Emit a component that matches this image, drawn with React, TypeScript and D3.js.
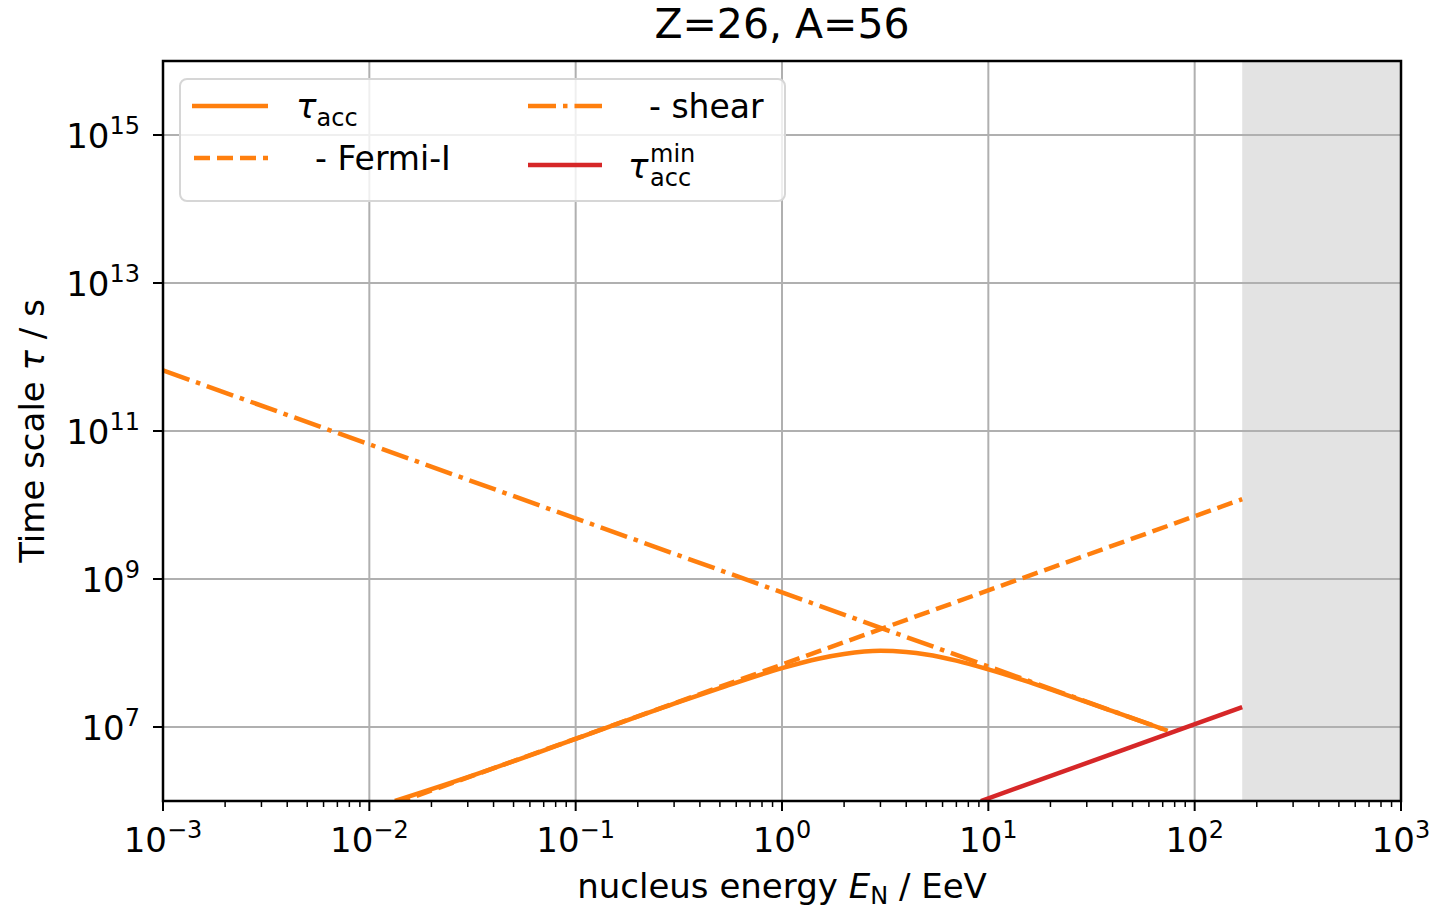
import * as d3 from 'd3';
import { useEffect } from 'react';

// values (energy in EeV, time scale in s)
const ENERGY_ACC = [0.0133, 0.03, 0.1, 0.3, 0.5, 1, 1.5, 2, 3, 4, 5, 7, 10, 15, 20, 40, 74];
const TAU_ACC = [1.0e6, 2.1e6, 6.9e6, 2.07e7, 3.36e7, 6.25e7, 8.38e7, 9.7e7, 1.07e8, 1.03e8, 9.55e7, 7.89e7, 6.0e7, 4.22e7, 3.22e7, 1.64e7, 8.9e6];
const ENERGY_FERMI = [0.0133, 170];
const TAU_FERMI = [0.92e6, 1.2e10];
const ENERGY_SHEAR = [0.001, 74];
const TAU_SHEAR = [6.6e11, 8.9e6];
const ENERGY_MIN = [9.2, 170];
const TAU_MIN = [1.0e6, 1.85e7];
const EXCLUDED = [170, 1000];

const X_TICKS = [-3, -2, -1, 0, 1, 2, 3];
const Y_TICKS = [7, 9, 11, 13, 15];

const W = 1439;
const H = 910;
const M = { LEFT: 163, RIGHT: 1401, TOP: 61, BOTTOM: 801 };
const ORANGE = '#ff7f0e';
const RED = '#d62728';
const FONT = 'DejaVu Sans, sans-serif';
const LW = 4.5;
const DASHED = '16,7';
const DASHDOT = '28,7,4.5,7';

const sup = (e: number) => (e < 0 ? '\u2212' + Math.abs(e) : String(e));

export default function App() {
  useEffect(() => {
    document.body.style.margin = '0';
  }, []);

  const x = d3.scaleLog().domain([1e-3, 1e3]).range([M.LEFT, M.RIGHT]);
  const y = d3.scaleLog().domain([1e6, 1e16]).range([M.BOTTOM, M.TOP]);

  const line = (xs: number[], ys: number[], curve = d3.curveLinear) =>
    d3
      .line<number>()
      .x((d) => x(d))
      .y((_, i) => y(ys[i]))
      .curve(curve)(xs) || '';

  const minorTicks: number[] = [];
  X_TICKS.slice(0, -1).forEach((e) => {
    for (let k = 2; k <= 9; k++) minorTicks.push(k * Math.pow(10, e));
  });

  return (
    <svg width={W} height={H} style={{ display: 'block', fontFamily: FONT }}>
      <defs>
        <clipPath id="plot">
          <rect x={M.LEFT} y={M.TOP} width={M.RIGHT - M.LEFT} height={M.BOTTOM - M.TOP} />
        </clipPath>
      </defs>
      <rect width={W} height={H} fill="#fff" />

      {/* excluded region */}
      <rect
        x={x(EXCLUDED[0])}
        y={M.TOP}
        width={x(EXCLUDED[1]) - x(EXCLUDED[0])}
        height={M.BOTTOM - M.TOP}
        fill="#e3e3e3"
      />

      {/* grid */}
      {X_TICKS.map((e) => (
        <line key={'gx' + e} x1={x(10 ** e)} x2={x(10 ** e)} y1={M.TOP} y2={M.BOTTOM} stroke="#b0b0b0" strokeWidth={2} />
      ))}
      {Y_TICKS.map((e) => (
        <line key={'gy' + e} x1={M.LEFT} x2={M.RIGHT} y1={y(10 ** e)} y2={y(10 ** e)} stroke="#b0b0b0" strokeWidth={2} />
      ))}

      {/* curves */}
      <g clipPath="url(#plot)" fill="none" strokeWidth={LW}>
        <path d={line(ENERGY_ACC, TAU_ACC, d3.curveMonotoneX)} stroke={ORANGE} />
        <path d={line(ENERGY_FERMI, TAU_FERMI)} stroke={ORANGE} strokeDasharray={DASHED} />
        <path d={line(ENERGY_SHEAR, TAU_SHEAR)} stroke={ORANGE} strokeDasharray={DASHDOT} />
        <path d={line(ENERGY_MIN, TAU_MIN)} stroke={RED} />
      </g>

      {/* axes frame */}
      <rect x={M.LEFT} y={M.TOP} width={M.RIGHT - M.LEFT} height={M.BOTTOM - M.TOP} fill="none" stroke="#000" strokeWidth={2.5} />

      {/* x ticks */}
      {X_TICKS.map((e) => (
        <g key={'xt' + e} transform={`translate(${x(10 ** e)},0)`}>
          <line y1={M.BOTTOM} y2={M.BOTTOM + 10} stroke="#000" strokeWidth={2} />
          <text y={852} textAnchor="middle" fontSize={34}>
            10<tspan dy={-14} fontSize={24}>{sup(e)}</tspan>
          </text>
        </g>
      ))}
      {minorTicks.map((v) => (
        <line key={'mx' + v} x1={x(v)} x2={x(v)} y1={M.BOTTOM} y2={M.BOTTOM + 6} stroke="#000" strokeWidth={1.5} />
      ))}

      {/* y ticks */}
      {Y_TICKS.map((e) => (
        <g key={'yt' + e} transform={`translate(0,${y(10 ** e)})`}>
          <line x1={M.LEFT - 10} x2={M.LEFT} stroke="#000" strokeWidth={2} />
          <text x={140} y={13} textAnchor="end" fontSize={34}>
            10<tspan dy={-14} fontSize={24}>{sup(e)}</tspan>
          </text>
        </g>
      ))}

      {/* labels */}
      <text x={(M.LEFT + M.RIGHT) / 2} y={38} textAnchor="middle" fontSize={41}>
        Z=26, A=56
      </text>
      <text x={782} y={898} textAnchor="middle" fontSize={34}>
        nucleus energy <tspan fontStyle="italic">E</tspan>
        <tspan dy={6} fontSize={24}>N</tspan>
        <tspan dy={-6}> / EeV</tspan>
      </text>
      <text transform="translate(44,431) rotate(-90)" textAnchor="middle" fontSize={34}>
        Time scale <tspan fontStyle="italic">τ</tspan> / s
      </text>

      {/* legend */}
      <g>
        <rect x={180} y={79} width={605} height={122} rx={7} fill="#fff" fillOpacity={0.8} stroke="#d6d6d6" strokeWidth={2} />
        <line x1={192} x2={268} y1={106} y2={106} stroke={ORANGE} strokeWidth={LW} />
        <text x={296} y={118} fontSize={34}>
          <tspan fontStyle="italic">τ</tspan>
          <tspan dy={8} fontSize={24}>acc</tspan>
        </text>
        <line x1={194} x2={268} y1={158} y2={158} stroke={ORANGE} strokeWidth={LW} strokeDasharray={DASHED} />
        <text x={315} y={170} fontSize={33}>
          - Fermi-I
        </text>
        <line x1={528} x2={602} y1={106} y2={106} stroke={ORANGE} strokeWidth={LW} strokeDasharray={DASHDOT} />
        <text x={649} y={118} fontSize={33}>
          - shear
        </text>
        <line x1={528} x2={602} y1={165} y2={165} stroke={RED} strokeWidth={LW} />
        <text x={628} y={178} fontSize={34}>
          <tspan fontStyle="italic">τ</tspan>
          <tspan x={650} dy={8} fontSize={24}>acc</tspan>
          <tspan x={650} dy={-24} fontSize={24}>min</tspan>
        </text>
      </g>
    </svg>
  );
}
